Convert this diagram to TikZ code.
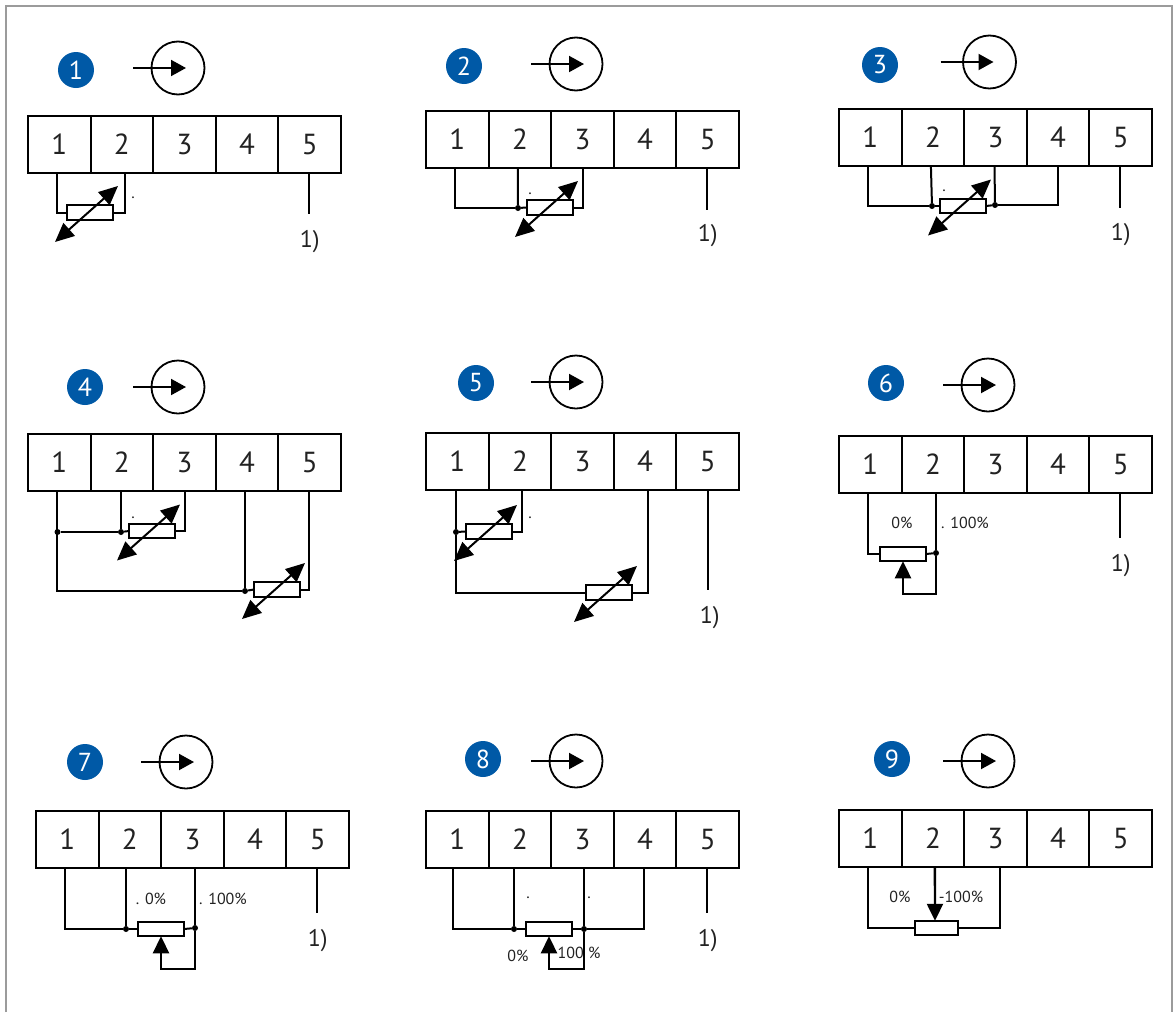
\documentclass[tikz,border=0pt]{standalone}
\usepackage{fontspec}
\setmainfont{PT Sans}
\usetikzlibrary{arrows.meta,positioning}
\definecolor{badgeblue}{HTML}{0059A6}
\definecolor{framegrey}{HTML}{9B9B9B}
\definecolor{inktext}{HTML}{222222}
\tikzset{
  cell/.style={draw,line width=2pt,minimum width=62.6pt,minimum height=57pt,inner sep=0pt,outer sep=0pt,text=inktext,font=\fontsize{29}{29}\selectfont},
  badge/.style={circle,fill=badgeblue,text=white,minimum size=36pt,inner sep=0pt,font=\fontsize{26}{26}\selectfont},
  rotor/.style={circle,draw,line width=1.8pt,minimum size=53pt,inner sep=0pt},
  res/.style={draw,fill=white,line width=1.8pt,minimum width=46pt,minimum height=14.5pt,inner sep=0pt,outer sep=0pt},
  joint/.style={circle,fill=black,minimum size=6pt,inner sep=0pt},
  wire/.style={line width=2pt},
  feed/.style={line width=2pt,-{Triangle[length=15pt,width=16pt]}},
  trim/.style={line width=2pt,{Triangle[length=19pt,width=17pt]}-{Triangle[length=19pt,width=17pt]}},
  slider/.style={line width=2.4pt,-{Triangle[length=17pt,width=16pt]}},
  note/.style={inner sep=0pt,text=inktext,font=\fontsize{24}{24}\selectfont},
  small/.style={inner sep=0pt,text=inktext,font=\fontsize{16}{16}\selectfont}
}
% terminal strip: name, left edge, top edge
\newcommand{\Strip}[3]{
  \node[cell] (#1a) at (#2+31.3,#3+28.5) {1};
  \node[cell,right=0pt of #1a] (#1b) {2};
  \node[cell,right=0pt of #1b] (#1c) {3};
  \node[cell,right=0pt of #1c] (#1d) {4};
  \node[cell,right=0pt of #1d] (#1e) {5};
}
% number and rotation sign: [arrow offset], name, number, badge x, badge y, sign x, sign y
\newcommand{\Head}[7][0]{
  \node[badge] (#2n) at (#4,#5) {#3};
  \node[rotor] (#2m) at (#6,#7) {};
  \draw[feed] ([xshift=-45pt+#1pt]#2m.center) -- ([xshift=8pt+#1pt]#2m.center);
}
% variable resistor: name, centre x, centre y
\newcommand{\Trimmer}[3]{
  \node[res] (#1) at (#2,#3) {};
  \draw[trim] ([shift={(-35,29.5)}]#1.center) -- ([shift={(28,-26.5)}]#1.center);
}
\begin{document}
\begin{tikzpicture}[x=1pt,y=-1pt]
  \useasboundingbox (0,0) rectangle (1174,1012);
  \draw[framegrey,line width=2pt] (6,1012) -- (6,6) -- (1171.5,6) -- (1171.5,1012);

  % 1
  \Head{d1}{1}{76}{70}{178}{68}
  \Strip{d1}{28}{116}
  \Trimmer{r1}{90}{212.5}
  \draw[wire] ([xshift=-2]d1a.south) |- (r1.west);
  \draw[wire] ([xshift=3]d1b.south) |- (r1.east);
  \draw[wire] ([xshift=-1]d1e.south) -- ++(0,41) coordinate (e1);
  \node[small] (t1) at (133,198) {.};
  \node[note,below=16pt of e1,xshift=1pt] (n1) {1)};

  % 2
  \Head{d2}{2}{464}{66}{576}{64}
  \Strip{d2}{426}{111}
  \Trimmer{r2}{550}{207.5}
  \node[joint] (j21) at (518,208) {};
  \draw[wire] ([xshift=-2.5]d2a.south) |- (j21);
  \draw[wire] ([xshift=-2]d2b.south) -- (j21);
  \draw[wire] (j21) -- (r2.west);
  \draw[wire] (d2c.south) |- (r2.east);
  \draw[wire] ([xshift=-1]d2e.south) -- ++(0,42) coordinate (e2);
  \node[small] (t2) at (530,194) {.};
  \node[note,below=14pt of e2,xshift=1pt] (n2) {1)};

  % 3
  \Head[-4]{d3}{3}{880}{65}{989.5}{62}
  \Strip{d3}{839}{109}
  \Trimmer{r3}{963}{206}
  \node[joint] (j31) at (932,206) {};
  \node[joint] (j32) at (995,205) {};
  \draw[wire] ([xshift=-2]d3a.south) |- (j31);
  \draw[wire] ([xshift=-2]d3b.south) -- (j31);
  \draw[wire] (j31) -- (r3.west);
  \draw[wire] (r3.east) -- (j32);
  \draw[wire] ([xshift=-1]d3c.south) -- (j32);
  \draw[wire] (d3d.south) |- (j32);
  \draw[wire] ([xshift=-1]d3e.south) -- ++(0,42) coordinate (e3);
  \node[small] (t3) at (944,191) {.};
  \node[note,below=15pt of e3,xshift=1pt] (n3) {1)};

  % 4
  \Head{d4}{4}{85}{387}{178}{387}
  \Strip{d4}{28}{434}
  \Trimmer{r41}{152}{531}
  \Trimmer{r42}{277}{589.5}
  \node[joint] (j41) at (57.5,532) {};
  \node[joint] (j42) at (121,532) {};
  \node[joint] (j43) at (245,591) {};
  \draw[wire] ([xshift=-2]d4a.south) |- (j43);
  \draw[wire] (j41) -- (j42);
  \draw[wire] (j42 |- d4b.south) -- (j42);
  \draw[wire] (j42) -- (r41.west);
  \draw[wire] (d4c.south) |- (r41.east);
  \draw[wire] (j43 |- d4d.south) -- (j43);
  \draw[wire] (j43) -- (r42.west);
  \draw[wire] ([xshift=-1]d4e.south) |- (r42.east);
  \node[small] (t4) at (133,518) {.};

  % 5
  \Head{d5}{5}{476}{383}{576}{382}
  \Strip{d5}{426}{433}
  \Trimmer{r51}{489}{531.5}
  \Trimmer{r52}{609}{592.5}
  \node[joint] (j51) at (456,532) {};
  \draw[wire] (j51 |- d5a.south) -- (j51);
  \draw[wire] (j51) -- (r51.west);
  \draw[wire] (j51) |- (r52.west);
  \draw[wire] ([xshift=2]d5b.south) |- (r51.east);
  \draw[wire] ([xshift=3]d5d.south) |- (r52.east);
  \draw[wire] (d5e.south) -- ++(0,100) coordinate (e5);
  \node[small] (t5) at (530,518) {.};
  \node[note,below=16pt of e5,xshift=2pt] (n5) {1)};

  % 6
  \Head{d6}{6}{886}{383}{988}{385}
  \Strip{d6}{839}{436}
  \node[res] (r6) at (903,554) {};
  \node[joint] (j61) at (936,553) {};
  \draw[wire] ([xshift=-2]d6a.south) |- (r6.west);
  \draw[wire] (j61 |- d6b.south) -- (j61);
  \draw[wire] (r6.east) -- (j61);
  \draw[slider] (j61) -- ++(0,41) -| (r6.south);
  \draw[wire] ([xshift=-1]d6e.south) -- ++(0,45) coordinate (e6);
  \node[small] (t61) at (902,523) {0\%};
  \node[small] (t62) at (965,523) {. 100\%};
  \node[note,below=16pt of e6,xshift=1pt] (n6) {1)};

  % 7
  \Head{d7}{7}{85}{762}{186}{762}
  \Strip{d7}{36}{811}
  \node[res] (r7) at (161,929) {};
  \node[joint] (j71) at (126,929) {};
  \node[joint] (j72) at (195,928) {};
  \draw[wire] ([xshift=-2.5]d7a.south) |- (j71);
  \draw[wire] (j71 |- d7b.south) -- (j71);
  \draw[wire] (j71) -- (r7.west);
  \draw[wire] (r7.east) -- (j72);
  \draw[wire] (j72 |- d7c.south) -- (j72);
  \draw[slider] (j72) -- ++(0,41) -| (r7.south);
  \draw[wire] ([xshift=-1]d7e.south) -- ++(0,45) coordinate (e7);
  \node[small] (t71) at (151,899) {. 0\%};
  \node[small] (t72) at (223,899) {. 100\%};
  \node[note,below=16pt of e7,xshift=1pt] (n7) {1)};

  % 8
  \Head{d8}{8}{483}{759}{576}{761}
  \Strip{d8}{426}{811}
  \node[res] (r8) at (549,929) {};
  \node[joint] (j81) at (514,929) {};
  \node[joint] (j82) at (584,929) {};
  \draw[wire] ([xshift=-4.5]d8a.south) |- (j81);
  \draw[wire] (j81 |- d8b.south) -- (j81);
  \draw[wire] (j81) -- (r8.west);
  \draw[wire] (r8.east) -- (j82);
  \draw[wire] (j82 |- d8c.south) -- (j82);
  \draw[wire] ([xshift=-1]d8d.south) |- (j82);
  \draw[slider] (j82) -- ++(0,40) -| (r8.south);
  \draw[wire] ([xshift=-1]d8e.south) -- ++(0,45) coordinate (e8);
  \node[small] (t81) at (528,898) {.};
  \node[small] (t82) at (589,898) {.};
  \node[small] (t83) at (518,956) {0\%};
  \node[small] (t84) at (579,953) {100 \%};
  \node[note,below=16pt of e8,xshift=1pt] (n8) {1)};

  % 9
  \Head{d9}{9}{892}{759}{988}{761}
  \Strip{d9}{839}{810}
  \node[res,minimum width=43pt] (r9) at (936.5,928) {};
  \draw[wire] ([xshift=-2.5]d9a.south) |- (r9.west);
  \draw[wire] ([xshift=4]d9c.south) |- (r9.east);
  \draw[slider] ([xshift=2]d9b.south) -- ([xshift=-1.5]r9.north);
  \node[small] (t91) at (900,897) {0\%};
  \node[small] (t92) at (961,897) {-100\%};
\end{tikzpicture}
\end{document}
